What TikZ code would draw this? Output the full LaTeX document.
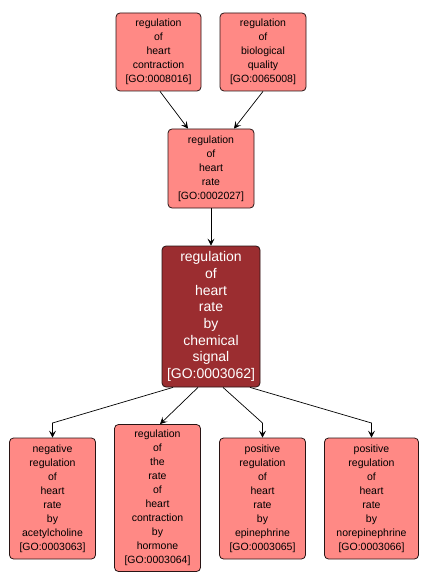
\documentclass[tikz,border=0pt]{standalone}
\usepackage{fontspec}
\setmainfont{Liberation Sans}
\usetikzlibrary{arrows.meta,calc}
\definecolor{lightgo}{RGB}{255,137,133}
\definecolor{darkgo}{RGB}{155,45,48}
\definecolor{edgeline}{RGB}{40,20,20}
\tikzset{
  goterm/.style={draw=edgeline, line width=0.8pt, rounded corners=4pt, fill=lightgo, align=center,
    inner sep=0pt, font=\fontsize{10.5}{14}\selectfont, text=black},
  goterm dark/.style={goterm, fill=darkgo, text=white, font=\fontsize{14}{16.7}\selectfont},
  relation/.style={draw=black, line width=0.7pt, -{Stealth[length=7pt,width=7pt,inset=3pt]}}
}
\begin{document}
\begin{tikzpicture}[x=1pt,y=-1pt]
\useasboundingbox (0,0) rectangle (428,588);
\node[goterm, minimum width=85pt, minimum height=78pt] (n1) at (158.5,52) {regulation\\of\\heart\\contraction\\{[GO:0008016]}};
\node[goterm, minimum width=86pt, minimum height=78pt] (n2) at (263,52) {regulation\\of\\biological\\quality\\{[GO:0065008]}};
\node[goterm, minimum width=86pt, minimum height=79pt] (n3) at (211,168.5) {regulation\\of\\heart\\rate\\{[GO:0002027]}};
\node[goterm dark, minimum width=98pt, minimum height=141pt] (n4) at (211,316.5) {regulation\\of\\heart\\rate\\by\\chemical\\signal\\{[GO:0003062]}};
\node[goterm, minimum width=86pt, minimum height=121pt] (b1) at (52.5,498.5) {negative\\regulation\\of\\heart\\rate\\by\\acetylcholine\\{[GO:0003063]}};
\node[goterm, minimum width=86pt, minimum height=147pt] (b2) at (157.5,498) {regulation\\of\\the\\rate\\of\\heart\\contraction\\by\\hormone\\{[GO:0003064]}};
\node[goterm, minimum width=86pt, minimum height=121pt] (b3) at (262.5,498.5) {positive\\regulation\\of\\heart\\rate\\by\\epinephrine\\{[GO:0003065]}};
\node[goterm, minimum width=94pt, minimum height=121pt] (b4) at (371.5,498.5) {positive\\regulation\\of\\heart\\rate\\by\\norepinephrine\\{[GO:0003066]}};
\coordinate (k1) at (52.5,423);
\coordinate (k3) at (262.5,423);
\coordinate (k4) at (371.5,423);
\draw[relation] ([xshift=1.5pt]n1.south) -- ([xshift=-23pt]n3.north);
\draw[relation] (n2.south) -- ([xshift=23pt]n3.north);
\draw[relation] (n3.south) -- (n4.north);
\draw[relation] ([xshift=-38pt]n4.south) -- (k1) -- (b1.north);
\draw[relation] ([xshift=-13pt]n4.south) -- ([xshift=2.5pt]b2.north);
\draw[relation] ([xshift=12pt]n4.south) -- (k3) -- (b3.north);
\draw[relation] ([xshift=39pt]n4.south) -- (k4) -- (b4.north);
\end{tikzpicture}
\end{document}
